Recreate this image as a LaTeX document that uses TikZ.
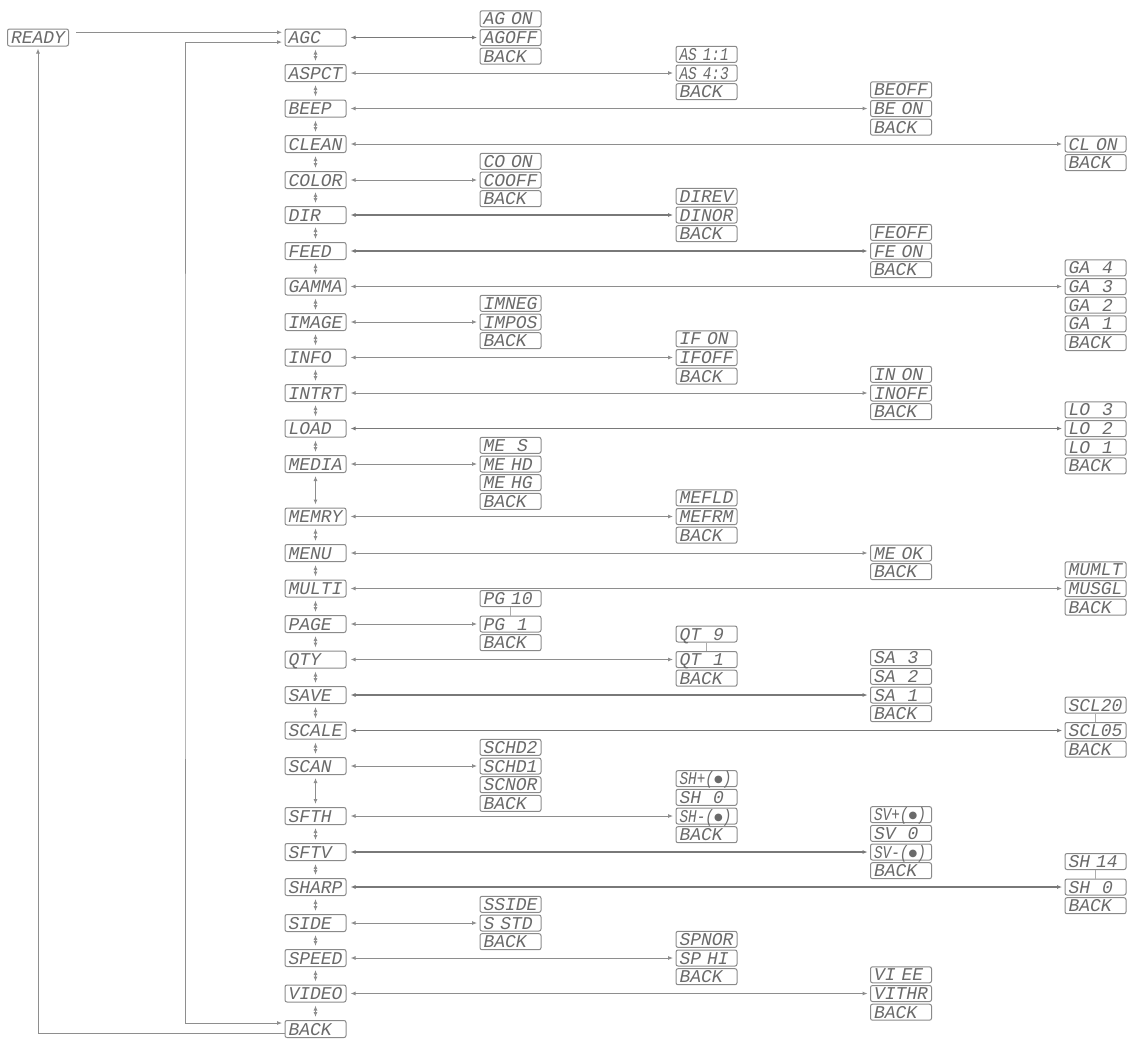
\documentclass[tikz,border=0pt]{standalone}
\usepackage{fontspec}
\usepackage{xcolor}
\usepackage{tikz}
\usetikzlibrary{arrows.meta,positioning}
\newfontfamily\lcdfont{Liberation Mono}
\newfontfamily\lcdnarrow{Liberation Mono}[FakeStretch=0.8]
\newfontfamily\symfont{DejaVu Sans}
\newcommand\lcddot{\raisebox{1pt}{\symfont\fontsize{5}{5}\selectfont ●}}
\definecolor{lcdgrey}{HTML}{6A6A6A}
\definecolor{boxgrey}{HTML}{8A8A8A}
\definecolor{linegrey}{HTML}{8E8E8E}

\begin{document}
\begin{tikzpicture}
  [x=0.5pt,y=-0.5pt,
    >={Latex[length=2.5pt,width=2pt]},
    node distance=0.85pt,
    lcd/.style={draw=boxgrey,line width=0.5pt,rounded corners=1pt,text=lcdgrey,
      font=\lcdfont\itshape\fontsize{9}{9}\selectfont,
      text width=27pt,align=left,inner xsep=1.75pt,inner ysep=0pt,
      text height=6pt,text depth=0pt},
    mainbox/.style={lcd,minimum height=8.5pt},
    subbox/.style={lcd,minimum height=8pt},
    narrow/.style={font=\lcdnarrow\itshape\fontsize{9}{9}\selectfont},
    link/.style={draw=linegrey,line width=0.5pt},
    sel/.style={link,<->,shorten <=2pt,shorten >=1.2pt},
    heavy/.style={sel,line width=0.9pt,draw=linegrey!85!black},
    updown/.style={link,<->,shorten <=1.5pt,shorten >=1.5pt},
    rangeline/.style={draw=boxgrey!70,line width=0.4pt}]
  \useasboundingbox (0,0) rectangle (1140,1040);

  % main menu column
  \node[mainbox] (ready) at (38,37.5) {READY};
  \foreach \n/\t/\y in {agc/AGC/37.5,aspct/ASPCT/73,beep/BEEP/108.5,clean/CLEAN/144,
      color/COLOR/180,dir/DIR/215,feed/FEED/251,gamma/GAMMA/286.5,image/IMAGE/322,
      info/INFO/357.5,intrt/INTRT/393,load/LOAD/428.5,media/MEDIA/464,memry/MEMRY/516.5,
      menu/MENU/553,multi/MULTI/588.5,page/PAGE/624,qty/QTY/659.5,save/SAVE/695,
      scale/SCALE/730.5,scan/SCAN/766,sfth/SFTH/816,sftv/SFTV/852,sharp/SHARP/887,
      side/SIDE/923,speed/SPEED/958,video/VIDEO/993.5,mback/BACK/1029}
    \node[mainbox] (\n) at (315.5,\y) {\t};
  \foreach \a/\b in {agc/aspct,aspct/beep,beep/clean,clean/color,color/dir,dir/feed,
      feed/gamma,gamma/image,image/info,info/intrt,intrt/load,load/media,media/memry,
      memry/menu,menu/multi,multi/page,page/qty,qty/save,save/scale,scale/scan,scan/sfth,
      sfth/sftv,sftv/sharp,sharp/side,side/speed,speed/video,video/mback}
    \draw[updown] (\a) -- (\b);

  % in and out of the menu
  \coordinate (agcin) at ([yshift=2.6pt]agc.west);
  \draw[link,->,shorten <=3.5pt,shorten >=1.2pt] (ready.east |- agcin) -- (agcin);
  \draw[link,<->,shorten <=1.2pt,shorten >=1.2pt]
    ([yshift=-2.3pt]agc.west) -| (185,500) |- ([yshift=3pt]mback.west);
  \draw[link,->,shorten >=1pt] ([yshift=-2.2pt]mback.west) -| (ready.south);

  % AGC
  \node[subbox] (agoff) at (510.5,37.5) {AGOFF};
  \node[subbox,above=of agoff] (agon) {AG~ON};
  \node[subbox,below=of agoff] (agbk) {BACK};
  \draw[heavy] (agc) -- (agoff);
  % ASPCT
  \node[subbox,narrow] (as43) at (706.5,73) {AS~4:3};
  \node[subbox,narrow,above=of as43] (as11) {AS~1:1};
  \node[subbox,below=of as43] (asbk) {BACK};
  \draw[sel] (aspct) -- (as43);
  % BEEP
  \node[subbox] (beon) at (901,108.5) {BE~ON};
  \node[subbox,above=of beon] (beoff) {BEOFF};
  \node[subbox,below=of beon] (bebk) {BACK};
  \draw[sel] (beep) -- (beon);
  % CLEAN
  \node[subbox] (clon) at (1095.5,144) {CL~ON};
  \node[subbox,below=of clon] (clbk) {BACK};
  \draw[sel] (clean) -- (clon);
  % COLOR
  \node[subbox] (cooff) at (510.5,180) {COOFF};
  \node[subbox,above=of cooff] (coon) {CO~ON};
  \node[subbox,below=of cooff] (cobk) {BACK};
  \draw[sel] (color) -- (cooff);
  % DIR
  \node[subbox] (dinor) at (706.5,215) {DINOR};
  \node[subbox,above=of dinor] (direv) {DIREV};
  \node[subbox,below=of dinor] (dibk) {BACK};
  \draw[heavy] (dir) -- (dinor);
  % FEED
  \node[subbox] (feon) at (901,251) {FE~ON};
  \node[subbox,above=of feon] (feoff) {FEOFF};
  \node[subbox,below=of feon] (febk) {BACK};
  \draw[heavy] (feed) -- (feon);
  % GAMMA
  \node[subbox] (ga3) at (1095.5,286.5) {GA~~3};
  \node[subbox,above=of ga3] (ga4) {GA~~4};
  \node[subbox,below=of ga3] (ga2) {GA~~2};
  \node[subbox,below=of ga2] (ga1) {GA~~1};
  \node[subbox,below=of ga1] (gabk) {BACK};
  \draw[sel] (gamma) -- (ga3);
  % IMAGE
  \node[subbox] (impos) at (510.5,322) {IMPOS};
  \node[subbox,above=of impos] (imneg) {IMNEG};
  \node[subbox,below=of impos] (imbk) {BACK};
  \draw[sel] (image) -- (impos);
  % INFO
  \node[subbox] (ifoff) at (706.5,357.5) {IFOFF};
  \node[subbox,above=of ifoff] (ifon) {IF~ON};
  \node[subbox,below=of ifoff] (ifbk) {BACK};
  \draw[sel] (info) -- (ifoff);
  % INTRT
  \node[subbox] (inoff) at (901,393) {INOFF};
  \node[subbox,above=of inoff] (inon) {IN~ON};
  \node[subbox,below=of inoff] (inbk) {BACK};
  \draw[sel] (intrt) -- (inoff);
  % LOAD
  \node[subbox] (lo2) at (1095.5,428.5) {LO~~2};
  \node[subbox,above=of lo2] (lo3) {LO~~3};
  \node[subbox,below=of lo2] (lo1) {LO~~1};
  \node[subbox,below=of lo1] (lobk) {BACK};
  \draw[heavy] (load) -- (lo2);
  % MEDIA
  \node[subbox] (mehd) at (510.5,464) {ME~HD};
  \node[subbox,above=of mehd] (mes) {ME~~S};
  \node[subbox,below=of mehd] (mehg) {ME~HG};
  \node[subbox,below=of mehg] (medbk) {BACK};
  \draw[sel] (media) -- (mehd);
  % MEMRY
  \node[subbox] (mefrm) at (706.5,516.5) {MEFRM};
  \node[subbox,above=of mefrm] (mefld) {MEFLD};
  \node[subbox,below=of mefrm] (mefbk) {BACK};
  \draw[sel] (memry) -- (mefrm);
  % MENU
  \node[subbox] (meok) at (901,553) {ME~OK};
  \node[subbox,below=of meok] (mnbk) {BACK};
  \draw[sel] (menu) -- (meok);
  % MULTI
  \node[subbox] (musgl) at (1095.5,588.5) {MUSGL};
  \node[subbox,above=of musgl] (mumlt) {MUMLT};
  \node[subbox,below=of musgl] (mubk) {BACK};
  \draw[sel] (multi) -- (musgl);
  % PAGE
  \node[subbox] (pg1) at (510.5,624) {PG~~1};
  \node[subbox,above=4.25pt of pg1] (pg10) {PG~10};
  \node[subbox,below=of pg1] (pgbk) {BACK};
  \draw[rangeline] (pg10) -- (pg1);
  \draw[sel] (page) -- (pg1);
  % QTY
  \node[subbox] (qt1) at (706.5,659.5) {QT~~1};
  \node[subbox,above=4.25pt of qt1] (qt9) {QT~~9};
  \node[subbox,below=of qt1] (qtbk) {BACK};
  \draw[rangeline] (qt9) -- (qt1);
  \draw[sel] (qty) -- (qt1);
  % SAVE
  \node[subbox] (sa1) at (901,695) {SA~~1};
  \node[subbox,above=of sa1] (sa2) {SA~~2};
  \node[subbox,above=of sa2] (sa3) {SA~~3};
  \node[subbox,below=of sa1] (sabk) {BACK};
  \draw[heavy] (save) -- (sa1);
  % SCALE
  \node[subbox] (scl05) at (1095.5,730.5) {SCL05};
  \node[subbox,above=4.25pt of scl05] (scl20) {SCL20};
  \node[subbox,below=of scl05] (sclbk) {BACK};
  \draw[rangeline] (scl20) -- (scl05);
  \draw[heavy] (scale) -- (scl05);
  % SCAN
  \node[subbox] (schd1) at (510.5,766) {SCHD1};
  \node[subbox,above=of schd1] (schd2) {SCHD2};
  \node[subbox,below=of schd1] (scnor) {SCNOR};
  \node[subbox,below=of scnor] (scnbk) {BACK};
  \draw[sel] (scan) -- (schd1);
  % SFTH
  \node[subbox,narrow] (shm) at (706.5,816) {\mbox{SH-(\lcddot)}};
  \node[subbox,above=of shm] (sh0) {SH~~0};
  \node[subbox,narrow,above=of sh0] (shp) {\mbox{SH+(\lcddot)}};
  \node[subbox,below=of shm] (shbk) {BACK};
  \draw[sel] (sfth) -- (shm);
  % SFTV
  \node[subbox,narrow] (svm) at (901,852) {\mbox{SV-(\lcddot)}};
  \node[subbox,above=of svm] (sv0) {SV~~0};
  \node[subbox,narrow,above=of sv0] (svp) {\mbox{SV+(\lcddot)}};
  \node[subbox,below=of svm] (svbk) {BACK};
  \draw[heavy] (sftv) -- (svm);
  % SHARP
  \node[subbox] (shz) at (1095.5,887) {SH~~0};
  \node[subbox,above=4.25pt of shz] (sh14) {SH~14};
  \node[subbox,below=of shz] (shzbk) {BACK};
  \draw[rangeline] (sh14) -- (shz);
  \draw[heavy] (sharp) -- (shz);
  % SIDE
  \node[subbox] (sstd) at (510.5,923) {S~STD};
  \node[subbox,above=of sstd] (sside) {SSIDE};
  \node[subbox,below=of sstd] (sibk) {BACK};
  \draw[sel] (side) -- (sstd);
  % SPEED
  \node[subbox] (sphi) at (706.5,958) {SP~HI};
  \node[subbox,above=of sphi] (spnor) {SPNOR};
  \node[subbox,below=of sphi] (spbk) {BACK};
  \draw[sel] (speed) -- (sphi);
  % VIDEO
  \node[subbox] (vithr) at (901,993.5) {VITHR};
  \node[subbox,above=of vithr] (viee) {VI~EE};
  \node[subbox,below=of vithr] (vibk) {BACK};
  \draw[sel] (video) -- (vithr);
\end{tikzpicture}
\end{document}
